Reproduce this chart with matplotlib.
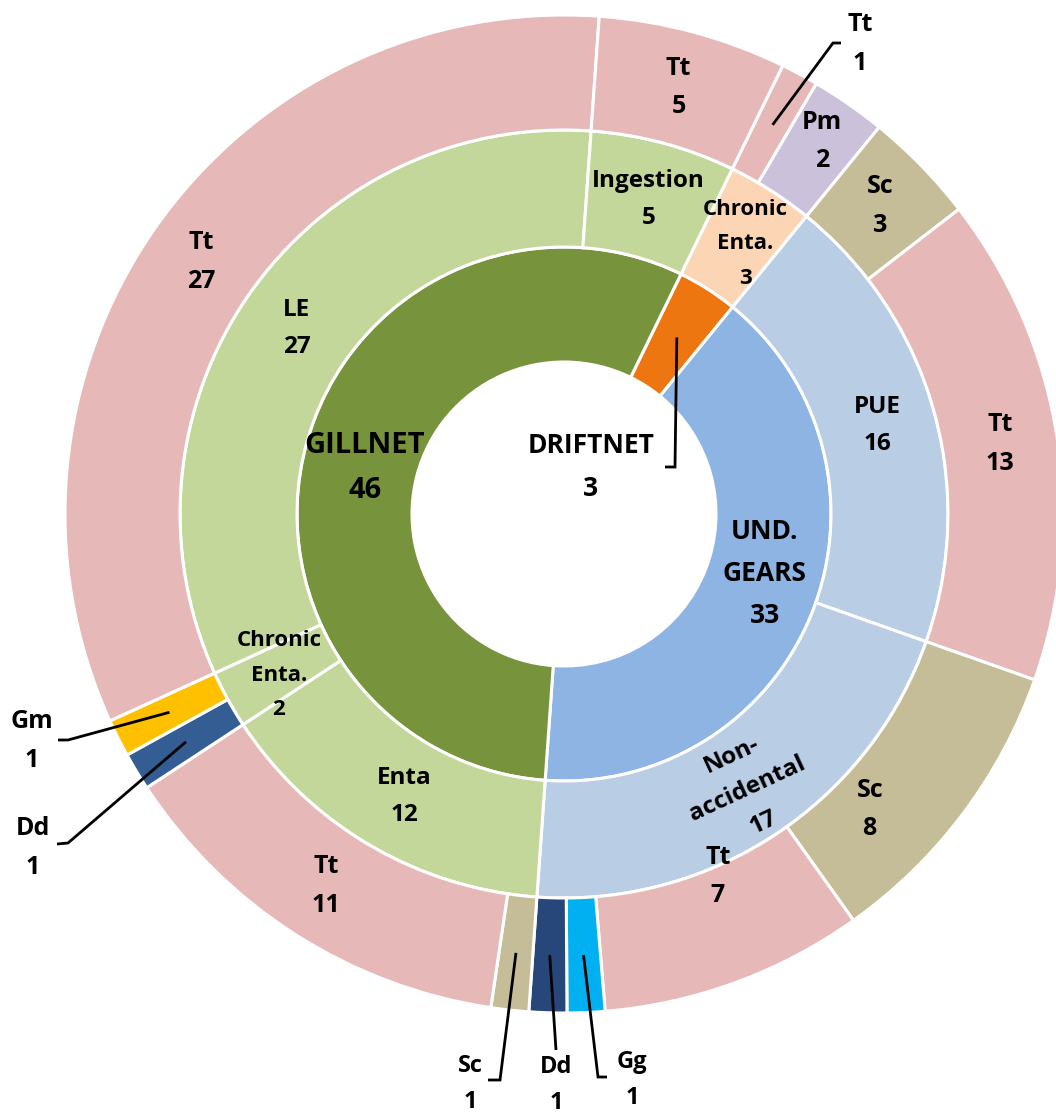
import matplotlib
matplotlib.use("Agg")
import matplotlib.pyplot as plt
import numpy as np

# Fishing gear (inner ring)
gear_labels = ["DRIFTNET", "UND.\nGEARS", "GILLNET"]
gear_values = [3, 33, 46]

# Cause of death within each gear (middle ring)
cause_labels = ["Chronic\nEnta.", "PUE", "Non-\naccidental", "Enta", "Chronic\nEnta.", "LE", "Ingestion"]
cause_values = [3, 16, 17, 12, 2, 27, 5]

# Species within each cause (outer ring)
species_labels = ["Tt", "Pm", "Sc", "Tt", "Sc", "Tt", "Gg", "Dd", "Sc", "Tt", "Dd", "Gm", "Tt", "Tt"]
species_values = [1, 2, 3, 13, 8, 7, 1, 1, 1, 11, 1, 1, 27, 5]

gear_colors = ["#EE7610", "#8EB4E3", "#77933C"]
cause_colors = ["#FCD5B5", "#B9CDE5", "#B9CDE5", "#C4D79B", "#C4D79B", "#C4D79B", "#C4D79B"]
species_colors = ["#E6B9B8", "#CCC1DA", "#C4BD97", "#E6B9B8", "#C4BD97", "#E6B9B8",
                  "#00B0F0", "#27467A", "#C4BD97", "#E6B9B8", "#345E93", "#FFC000",
                  "#E6B9B8", "#E6B9B8"]

plt.rcParams['font.family'] = ['Open Sans', 'DejaVu Sans']

W, H = 1056, 1116
fig = plt.figure(figsize=(W / 100, H / 100), dpi=100)
ax = fig.add_axes([0, 0, 1, 1])

cx, cy = 564, H - 514
r_hole, r_in, r_mid, r_out = 152, 267, 384, 499
start = 64
edge = dict(edgecolor="white", linewidth=2.2)

w_in, _ = ax.pie(gear_values, radius=r_in, center=(cx, cy), startangle=start,
                 counterclock=False, colors=gear_colors,
                 wedgeprops=dict(width=r_in - r_hole, **edge), frame=True)
w_mid, _ = ax.pie(cause_values, radius=r_mid, center=(cx, cy), startangle=start,
                  counterclock=False, colors=cause_colors,
                  wedgeprops=dict(width=r_mid - r_in, **edge), frame=True)
w_out, _ = ax.pie(species_values, radius=r_out, center=(cx, cy), startangle=start,
                  counterclock=False, colors=species_colors,
                  wedgeprops=dict(width=r_out - r_mid, **edge), frame=True)

ax.set_xlim(0, W)
ax.set_ylim(0, H)
ax.set_aspect("equal")
ax.axis("off")

LS = 1.72


def mid_point(w, r):
    a = np.deg2rad((w.theta1 + w.theta2) / 2)
    return cx + r * np.cos(a), cy + r * np.sin(a)


def put(x, y, s, size=18, rot=0, ls=LS):
    ax.text(x, y, s, ha="center", va="center", fontsize=size, fontweight="bold",
            linespacing=ls, rotation=rot, rotation_mode="anchor", color="black")


# small nudges (dx, dy in pixels, y downwards) for labels drawn inside wedges
nudge_in = {2: (3, 8), 1: (6, -18)}
nudge_mid = {0: (6, 4), 2: (5, 3), 3: (5, 2), 4: (0, 4)}
nudge_out = {1: (6, -10), 4: (-47, 30), 5: (2, -52)}

r_in_lab = (r_hole + r_in) / 2
r_mid_lab = (r_in + r_mid) / 2
r_out_lab = (r_mid + r_out) / 2

# inner ring labels
for i, (w, lab, v) in enumerate(zip(w_in, gear_labels, gear_values)):
    if i == 0:
        continue
    x, y = mid_point(w, r_in_lab)
    dx, dy = nudge_in.get(i, (0, 0))
    put(x + dx, y - dy, f"{lab}\n{v}", size=21 if i == 2 else 19)

# middle ring labels
for i, (w, lab, v) in enumerate(zip(w_mid, cause_labels, cause_values)):
    x, y = mid_point(w, r_mid_lab)
    dx, dy = nudge_mid.get(i, (0, 0))
    rot = 25 if i == 2 else 0
    if "Chronic" in lab:
        put(x + dx, y - dy, f"{lab}\n{v}", size=16, ls=1.85)
    else:
        put(x + dx, y - dy, f"{lab}\n{v}", size=17.5, rot=rot)

# outer ring labels inside wedges
external = {0, 6, 7, 8, 10, 11}
for i, (w, lab, v) in enumerate(zip(w_out, species_labels, species_values)):
    if i in external:
        continue
    x, y = mid_point(w, r_out_lab)
    dx, dy = nudge_out.get(i, (0, 0))
    put(x + dx, y - dy, f"{lab}\n{v}")


def leader(w, r, pts, text_xy, s, size=18):
    x0, y0 = mid_point(w, r)
    xs = [x0] + [p[0] for p in pts]
    ys = [y0] + [H - p[1] for p in pts]
    ax.plot(xs, ys, color="black", lw=2.0, solid_capstyle="butt",
            solid_joinstyle="miter")
    put(text_xy[0], H - text_xy[1], s, size=size)


# leader-line labels (points given in pixel rows from the top)
leader(w_in[0], r_in_lab, [(675, 467), (665, 467)], (591, 467),
       f"{gear_labels[0]}\n{gear_values[0]}", size=19)
leader(w_out[0], r_out_lab, [(833, 43), (841, 43)], (860, 44),
       f"{species_labels[0]}\n{species_values[0]}")
leader(w_out[11], r_out_lab, [(68, 740), (58, 740)], (32, 741),
       f"{species_labels[11]}\n{species_values[11]}")
leader(w_out[10], r_out_lab, [(68, 843), (57, 844)], (33, 848),
       f"{species_labels[10]}\n{species_values[10]}")
leader(w_out[8], r_out_lab, [(500, 1080), (488, 1080)], (470, 1084),
       f"{species_labels[8]}\n{species_values[8]}", size=17)
leader(w_out[7], r_out_lab, [(556, 1050)], (556, 1085),
       f"{species_labels[7]}\n{species_values[7]}", size=17)
leader(w_out[6], r_out_lab, [(598, 1077), (607, 1077)], (632, 1080),
       f"{species_labels[6]}\n{species_values[6]}", size=17)

fig.savefig("out.png", dpi=100, facecolor="white")
